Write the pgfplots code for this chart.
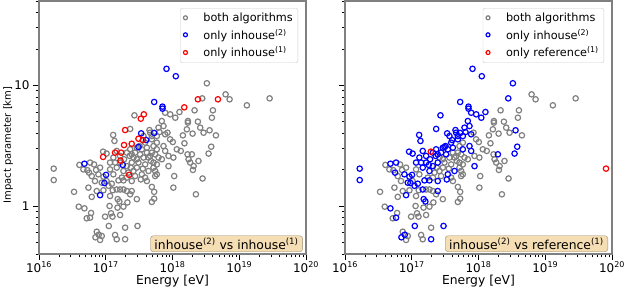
\documentclass[border=0pt]{standalone}
\usepackage{fontspec}
\setmainfont{DejaVu Sans}
\usepackage{pgfplots}
\usepackage{pgfplotstable}
\pgfplotsset{compat=1.18}
\definecolor{cgray}{RGB}{128,128,128}
\definecolor{cblue}{RGB}{0,0,255}
\definecolor{cred}{RGB}{255,0,0}
\definecolor{wheatbox}{RGB}{245,222,179}
\definecolor{boxedge}{RGB}{150,140,120}
\definecolor{framec}{RGB}{128,128,128}
\definecolor{legframe}{RGB}{204,204,204}

% points found by both algorithms in both comparisons
\pgfplotstableread{
E b
3.35e16 1.31
3.94e16 0.987
5.19e16 0.791
6.03e16 0.875
6.17e16 1.19
5.5e16 1.42
7.33e16 1.33
9.23e16 1.35
1.27e17 1.35
1.64e17 1.37
1.84e17 1.37
2.07e17 1.33
2.32e17 1.25
1.16e17 1.21
1.14e17 1.00
1.50e17 0.969
1.84e17 0.987
9.77e16 0.816
1.20e17 0.870
1.26e17 0.816
1.64e17 0.842
2.92e17 1.14
2.11e17 1.07
3.89e17 1.72
4.90e17 1.44
5.31e17 1.31
1.95e17 0.661
8.71e16 0.564
8.22e16 0.523
7.33e16 0.612
1.38e17 0.575
1.46e17 0.530
5.50e17 1.77
5.82e17 1.83
1.06e18 1.77
2.82e18 1.69
1.03e18 1.42
5.31e17 1.15
4.90e17 1.08
2.24e18 1.25
4.03e16 2.19
6.68e16 2.21
5.31e16 1.98
7.16e16 1.99
8.22e16 2.08
5.19e17 3.14
5.82e17 3.35
4.62e17 2.60
3.67e17 2.52
2.92e17 2.44
2.92e17 2.08
3.89e17 2.21
5.19e17 2.29
2.75e17 1.77
5.50e17 1.95
1.30e17 1.83
2.14e18 6.21
4.03e18 6.21
3.89e18 5.39
1.70e18 5.06
1.70e18 4.91
2.40e18 5.00
8.41e17 4.05
1.43e18 3.85
1.64e18 4.32
2.00e18 3.98
2.60e18 4.46
2.92e18 4.05
4.47e18 3.85
1.01e18 3.39
1.51e18 3.31
4.90e17 2.77
5.50e17 2.68
6.17e17 2.52
6.92e17 2.44
8.71e17 2.60
1.03e18 2.52
1.33e18 2.86
1.68e18 2.68
1.74e18 2.44
1.84e18 2.29
2.07e18 2.14
2.02e18 1.99
2.45e18 2.36
5.19e17 2.08
6.24e18 8.42
7.16e18 7.66
2.85e19 7.80
1.30e19 6.83
2.60e17 2.52
3.09e17 2.29
4.13e17 2.77
3.59e17 2.04
4.73e17 2.36
2.19e17 1.89
2.60e17 1.95
4.37e17 2.52
2.37e17 2.08
1.74e17 1.72
1.16e17 2.01
1.03e17 1.61
6.90e16 1.61
6.17e16 1.77
4.62e16 2.01
9.20e17 3.57
1.16e18 2.95
5.82e17 2.21
2.07e17 1.72
4.13e17 1.61
}\tabA

% both in left comparison, only inhouse(2) in right comparison
\pgfplotstableread{
E b
1.66e16 2.04
1.66e16 1.64
4.79e16 0.956
5.82e16 0.800
5.62e16 1.89
7.0e16 0.550
7.85e16 0.578
1.11e17 0.683
2.99e17 0.683
1.95e17 0.530
2.69e17 5.64
2.32e17 4.35
1.29e17 3.88
1.35e17 3.46
4.62e17 4.05
4.52e17 4.26
6.17e17 4.46
9.12e16 2.82
3.27e18 10.4
2.79e18 7.80
3.59e18 4.24
3.80e18 3.10
3.47e18 2.72
1.95e18 2.68
8.71e17 2.14
4.37e17 1.95
3.35e17 1.66
9.23e17 5.75
1.10e18 5.39
1.27e18 6.01
6.92e17 5.06
7.33e17 4.60
7.76e17 5.93
7.76e17 3.93
2.45e17 1.33
1.84e17 1.63
1.10e17 1.47
1.51e17 1.14
1.60e17 1.09
3.47e17 1.83
1.16e17 2.29
1.30e17 2.52
1.64e17 2.60
2.07e17 2.77
2.32e17 2.95
2.75e17 2.77
3.47e17 2.95
4.13e17 3.04
2.45e17 2.29
2.07e17 2.14
1.46e17 2.08
1.84e17 1.95
9.23e16 1.75
7.76e16 1.83
4.90e17 3.57
5.82e17 3.80
7.33e17 3.14
5.82e17 2.95
7.76e17 2.86
1.23e17 1.53
1.46e17 1.37
1.55e17 1.63
2.45e17 1.61
1.03e17 2.72
5.82e16 2.29
1.46e17 2.86
1.88e17 2.44
2.28e17 2.60
3.27e17 2.68
3.20e17 3.14
3.89e17 3.35
2.92e17 3.04
2.45e17 2.68
6.38e17 4.10
4.90e17 3.80
3.67e17 3.80
1.64e17 2.29
1.38e17 2.29
8.71e16 1.56
}\tabB

% only inhouse(2) in both comparisons
\pgfplotstableread{
E b
4.79e16 2.24
8.22e16 1.23
9.55e16 1.55
1.01e17 1.81
1.80e17 2.19
3.09e17 3.08
3.39e17 4.00
4.03e17 3.52
5.31e17 7.28
5.31e17 4.03
7.08e17 6.66
7.08e17 6.41
8.13e17 13.7
1.12e18 11.9
}\tabLB

% only inhouse(1)
\pgfplotstableread{
E b
9.12e16 2.55
1.38e17 2.77
1.70e17 2.77
1.66e17 2.38
1.88e17 3.20
2.24e17 1.81
2.45e17 3.28
1.95e17 4.26
3.09e17 3.61
3.59e17 3.52
3.35e17 5.29
3.72e17 5.75
1.50e18 6.57
2.40e18 7.66
4.79e18 7.66
}\tabLR

% only reference(1)
\pgfplotstableread{
E b
1.93e17 2.82
8.13e19 2.04
}\tabRR

\tikzset{
 tagbox/.style={fill=wheatbox, draw=boxedge, rounded corners=3bp, anchor=south east,
   inner xsep=4bp, inner ysep=2.5bp, font=\fontsize{12.4}{14}\selectfont},
}
\pgfplotsset{
 mk/.style={only marks, mark=o, mark size=2.7bp, mark options={line width=1.2bp}},
}

\begin{document}
\begin{tikzpicture}
\path[use as bounding box] (-39bp,-36bp) rectangle (589bp,254bp);
\begin{axis}[
  xmode=log, ymode=log, log basis x=10, log basis y=10,
  scale only axis, width=267bp, height=253bp,
  xmin=1e16, xmax=1e20, ymin=0.4, ymax=50,
  axis line style={draw=framec, line width=1.3bp},
  tick align=outside, xtick pos=bottom, ytick pos=left,
  major tick length=6bp, minor tick length=3.5bp,
  tick style={black, line width=0.8bp},
  tick label style={font=\fontsize{12}{14}\selectfont},
  xticklabel style={yshift=1.5bp},
  xticklabel={\pgfmathparse{int(round(\tick))}10\textsuperscript{\pgfmathresult}},
  yticklabel={\pgfmathparse{int(round(10^\tick))}\pgfmathresult},
  xlabel={Energy [eV]},
  xlabel style={font=\fontsize{12.4}{14}\selectfont, at={(axis description cs:0.5,-0.108)}, anchor=center},
  ylabel={Impact parameter [km]},
  ylabel style={font=\fontsize{10}{12}\selectfont, at={(axis description cs:-0.116,0.431)}, anchor=center},
  legend cell align=left,
  legend style={at={(rel axis cs:0.97,0.972)}, anchor=north east, draw=legframe,
    font=\fontsize{11.3}{13}\selectfont, row sep=2.3bp, column sep=14bp,
    inner xsep=3bp, inner ysep=2.5bp, fill=white, rounded corners=2bp},
  legend image post style={mark size=2bp, sharp corners},
  ]
\addplot[cgray, mk] table[x=E,y=b] {\tabA};
\addplot[cgray, mk, forget plot] table[x=E,y=b] {\tabB};
\addplot[cblue, mk] table[x=E,y=b] {\tabLB};
\addplot[cred, mk] table[x=E,y=b] {\tabLR};
\legend{both algorithms, only inhouse\textsuperscript{(2)}, only inhouse\textsuperscript{(1)}}
\node[tagbox] at (rel axis cs:0.988,0.008) {inhouse\textsuperscript{(2)} vs inhouse\textsuperscript{(1)}};
\end{axis}
\begin{axis}[
  at={(306bp,0)},
  xmode=log, ymode=log, log basis x=10, log basis y=10,
  scale only axis, width=267bp, height=253bp,
  xmin=1e16, xmax=1e20, ymin=0.4, ymax=50,
  axis line style={draw=framec, line width=1.3bp},
  tick align=outside, xtick pos=bottom, ytick pos=left,
  major tick length=6bp, minor tick length=3.5bp,
  tick style={black, line width=0.8bp},
  tick label style={font=\fontsize{12}{14}\selectfont},
  xticklabel style={yshift=1.5bp},
  xticklabel={\pgfmathparse{int(round(\tick))}10\textsuperscript{\pgfmathresult}},
  yticklabels={},
  xlabel={Energy [eV]},
  xlabel style={font=\fontsize{12.4}{14}\selectfont, at={(axis description cs:0.5,-0.108)}, anchor=center},
  legend cell align=left,
  legend style={at={(rel axis cs:0.97,0.972)}, anchor=north east, draw=legframe,
    font=\fontsize{11.3}{13}\selectfont, row sep=2.3bp, column sep=14bp,
    inner xsep=3bp, inner ysep=2.5bp, fill=white, rounded corners=2bp},
  legend image post style={mark size=2bp, sharp corners},
  ]
\addplot[cgray, mk] table[x=E,y=b] {\tabA};
\addplot[cblue, mk] table[x=E,y=b] {\tabB};
\addplot[cblue, mk, forget plot] table[x=E,y=b] {\tabLB};
\addplot[cred, mk] table[x=E,y=b] {\tabRR};
\legend{both algorithms, only inhouse\textsuperscript{(2)}, only reference\textsuperscript{(1)}}
\node[tagbox] at (rel axis cs:0.985,0.008) {inhouse\textsuperscript{(2)} vs reference\textsuperscript{(1)}};
\end{axis}
\end{tikzpicture}
\end{document}
